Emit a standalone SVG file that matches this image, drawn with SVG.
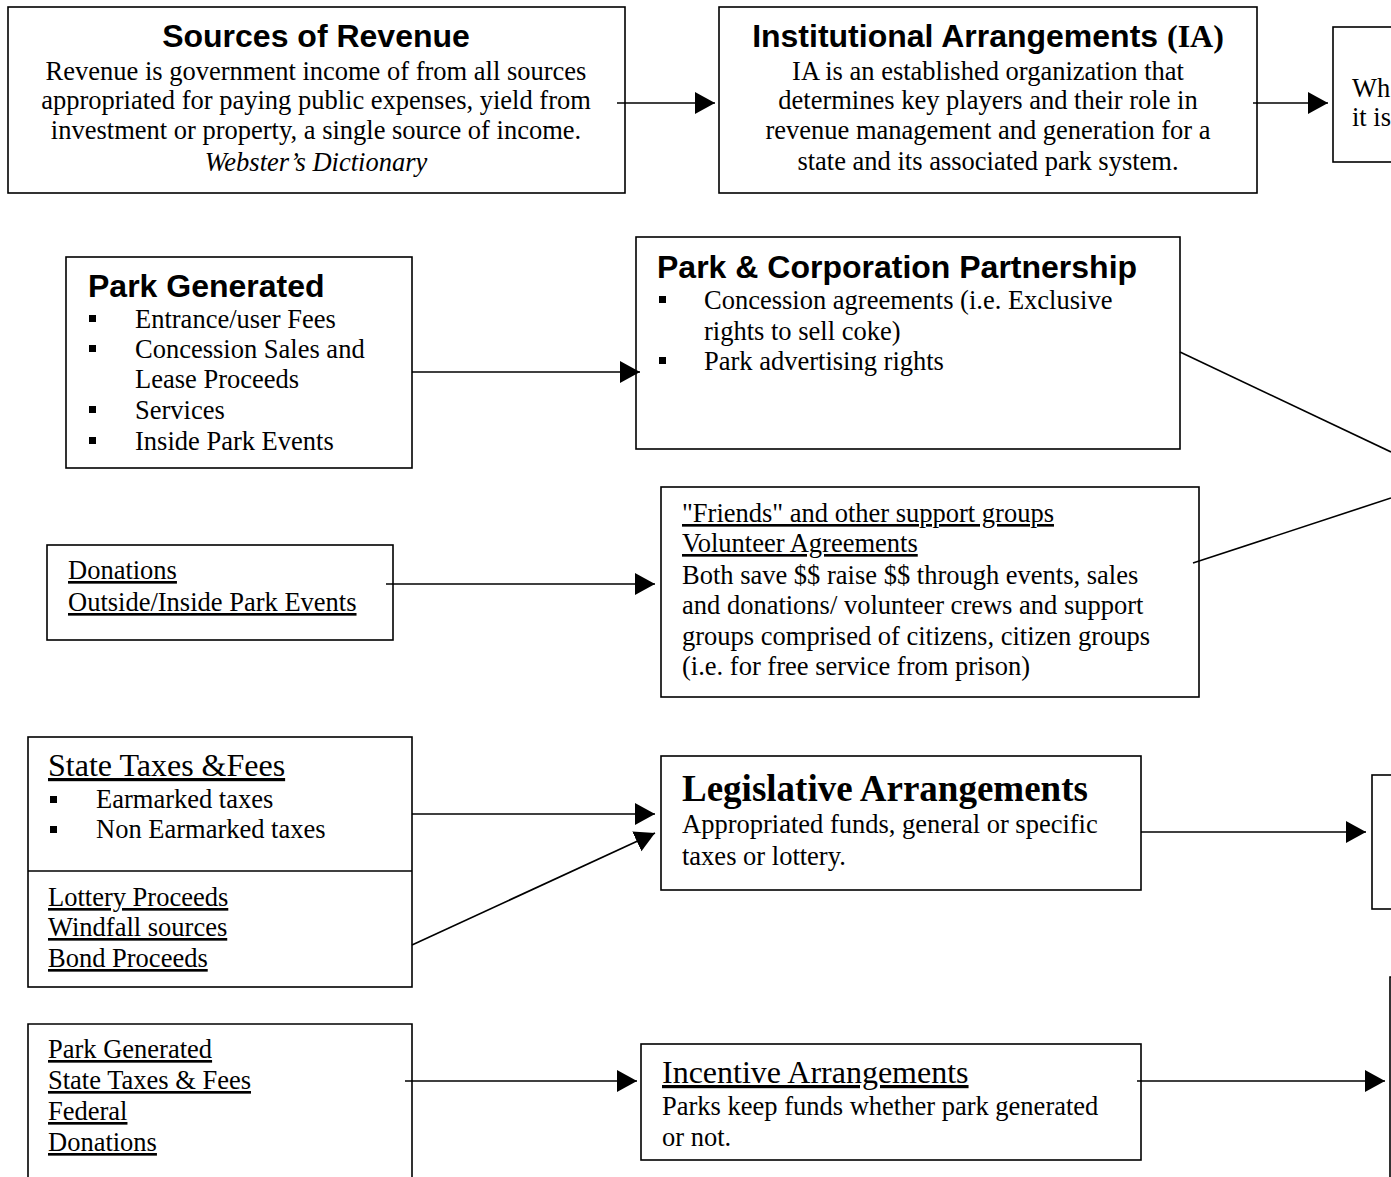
<svg xmlns="http://www.w3.org/2000/svg" width="1391" height="1177" viewBox="0 0 1391 1177">
<style>
.box{fill:#fff;stroke:#000;stroke-width:1.6}
.t{font-family:"Liberation Serif","Times New Roman",serif;font-size:26.5px;fill:#000}
.big{font-family:"Liberation Serif","Times New Roman",serif;font-size:32px;fill:#000}
.h{font-family:"Liberation Sans",Arial,sans-serif;font-weight:bold;font-size:32px;fill:#000}
.u{text-decoration:underline}
.c{text-anchor:middle}
.con{stroke:#000;stroke-width:1.6;fill:none}
</style>
<defs>
<marker id="ah" markerUnits="userSpaceOnUse" markerWidth="24" markerHeight="24" refX="20" refY="11" orient="auto" viewBox="0 0 24 24">
<path d="M0,0 L20,11 L0,22 z" fill="#000"/>
</marker>
</defs>
<rect width="1391" height="1177" fill="#fff"/>
<g id="sources">
<rect class="box" x="8" y="7" width="617" height="186"/>
<text class="h c" x="316" y="47">Sources of Revenue</text>
<text class="t c" x="316" y="80">Revenue is government income of from all sources</text>
<text class="t c" x="316" y="109">appropriated for paying public expenses, yield from</text>
<text class="t c" x="316" y="139">investment or property, a single source of income.</text>
<text class="t c" x="316" y="171" font-style="italic">Webster’s Dictionary</text>
</g>
<g id="institutional">
<rect class="box" x="719" y="7" width="538" height="186"/>
<text class="c" x="988" y="47"><tspan class="h">Institutional Arrangements </tspan><tspan class="big" font-weight="bold">(IA)</tspan></text>
<text class="t c" x="988" y="80">IA is an established organization that</text>
<text class="t c" x="988" y="109">determines key players and their role in</text>
<text class="t c" x="988" y="139">revenue management and generation for a</text>
<text class="t c" x="988" y="170">state and its associated park system.</text>
</g>
<g id="partial-top">
<rect class="box" x="1333" y="27" width="80" height="135"/>
<text class="t" x="1352" y="97">Wh</text>
<text class="t" x="1352" y="126">it is</text>
</g>
<g id="park-generated">
<rect class="box" x="66" y="257" width="346" height="211"/>
<text class="h" x="88" y="297">Park Generated</text>
<rect x="89" y="315" width="7" height="7"/>
<rect x="89" y="345" width="7" height="7"/>
<rect x="89" y="406" width="7" height="7"/>
<rect x="89" y="437" width="7" height="7"/>
<text class="t" x="135" y="328">Entrance/user Fees</text>
<text class="t" x="135" y="358">Concession Sales and</text>
<text class="t" x="135" y="388">Lease Proceeds</text>
<text class="t" x="135" y="419">Services</text>
<text class="t" x="135" y="450">Inside Park Events</text>
</g>
<g id="partnership">
<rect class="box" x="636" y="237" width="544" height="212"/>
<text class="h" x="657" y="278">Park &amp; Corporation Partnership</text>
<rect x="659" y="296" width="7" height="7"/>
<rect x="659" y="357" width="7" height="7"/>
<text class="t" x="704" y="309">Concession agreements (i.e. Exclusive</text>
<text class="t" x="704" y="340">rights to sell coke)</text>
<text class="t" x="704" y="370">Park advertising rights</text>
</g>
<g id="donations">
<rect class="box" x="47" y="545" width="346" height="95"/>
<text class="t u" x="68" y="579">Donations</text>
<text class="t u" x="68" y="611">Outside/Inside Park Events</text>
</g>
<g id="friends">
<rect class="box" x="661" y="487" width="538" height="210"/>
<text class="t u" x="682" y="522">"Friends" and other support groups</text>
<text class="t u" x="682" y="552">Volunteer Agreements</text>
<text class="t" x="682" y="584">Both save $$ raise $$ through events, sales</text>
<text class="t" x="682" y="614">and donations/ volunteer crews and support</text>
<text class="t" x="682" y="645">groups comprised of citizens, citizen groups</text>
<text class="t" x="682" y="675">(i.e. for free service from prison)</text>
</g>
<g id="state-taxes">
<rect class="box" x="28" y="737" width="384" height="250"/>
<line class="con" x1="28" y1="871" x2="412" y2="871"/>
<text class="big u" x="48" y="776">State Taxes &amp;Fees</text>
<rect x="50" y="796" width="7" height="7"/>
<rect x="50" y="826" width="7" height="7"/>
<text class="t" x="96" y="808">Earmarked taxes</text>
<text class="t" x="96" y="838">Non Earmarked taxes</text>
<text class="t u" x="48" y="906">Lottery Proceeds</text>
<text class="t u" x="48" y="936">Windfall sources</text>
<text class="t u" x="48" y="967">Bond Proceeds</text>
</g>
<g id="legislative">
<rect class="box" x="661" y="756" width="480" height="134"/>
<text x="682" y="801" font-family="'Liberation Serif','Times New Roman',serif" font-weight="bold" font-size="37">Legislative Arrangements</text>
<text class="t" x="682" y="833">Appropriated funds, general or specific</text>
<text class="t" x="682" y="865">taxes or lottery.</text>
</g>
<g id="partial-mid">
<rect class="box" x="1372" y="775" width="40" height="134"/>
</g>
<g id="bottom-sources">
<path class="con" d="M28,1180 L28,1024 L412,1024 L412,1180"/>
<text class="t u" x="48" y="1058">Park Generated</text>
<text class="t u" x="48" y="1089">State Taxes &amp; Fees</text>
<text class="t u" x="48" y="1120">Federal</text>
<text class="t u" x="48" y="1151">Donations</text>
</g>
<g id="incentive">
<rect class="box" x="641" y="1044" width="500" height="116"/>
<text class="big u" x="662" y="1083">Incentive Arrangements</text>
<text class="t" x="662" y="1115">Parks keep funds whether park generated</text>
<text class="t" x="662" y="1146">or not.</text>
</g>
<g id="partial-bottom">
<path class="con" d="M1390,1180 L1390,977 L1395,977"/>
</g>
<g id="connectors">
<line class="con" x1="617" y1="103" x2="715" y2="103" marker-end="url(#ah)"/>
<line class="con" x1="1253" y1="103" x2="1328" y2="103" marker-end="url(#ah)"/>
<line class="con" x1="412" y1="372" x2="640" y2="372" marker-end="url(#ah)"/>
<line class="con" x1="386" y1="584" x2="655" y2="584" marker-end="url(#ah)"/>
<line class="con" x1="412" y1="814" x2="655" y2="814" marker-end="url(#ah)"/>
<line class="con" x1="412" y1="945" x2="655" y2="833" marker-end="url(#ah)"/>
<line class="con" x1="1141" y1="832" x2="1366" y2="832" marker-end="url(#ah)"/>
<line class="con" x1="405" y1="1081" x2="637" y2="1081" marker-end="url(#ah)"/>
<line class="con" x1="1137" y1="1081" x2="1385" y2="1081" marker-end="url(#ah)"/>
<line class="con" x1="1180" y1="352" x2="1391" y2="452"/>
<line class="con" x1="1193" y1="563" x2="1391" y2="498"/>
</g>
</svg>
